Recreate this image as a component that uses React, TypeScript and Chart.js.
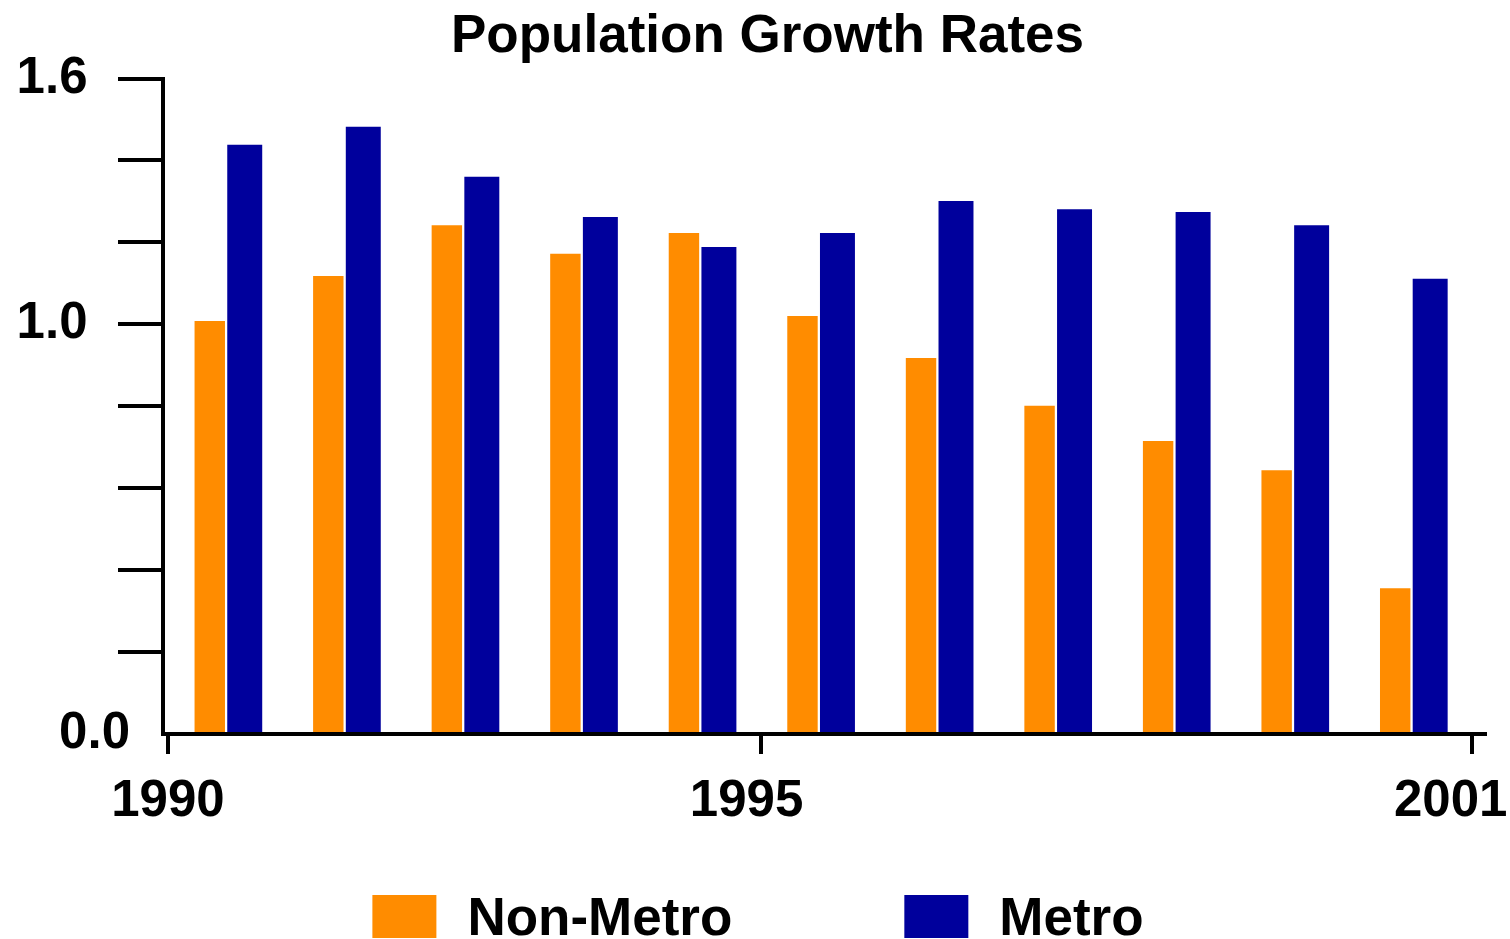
import React, { useEffect, useRef } from "react";
import { Chart, registerables } from "chart.js";

Chart.register(...registerables);

const TITLE = "Population Growth Rates";
const YEARS = [1990, 1991, 1992, 1993, 1994, 1995, 1996, 1997, 1998, 1999, 2000];
const NON_METRO = [1.008, 1.118, 1.242, 1.172, 1.223, 1.02, 0.918, 0.801, 0.715, 0.644, 0.356];
const METRO = [1.438, 1.482, 1.36, 1.262, 1.189, 1.223, 1.301, 1.281, 1.274, 1.242, 1.111];
const SERIES_LABELS = ["Non-Metro", "Metro"];
const SERIES_COLORS = ["#ff8c00", "#00009c"];
const X_TICKS = [1990, 1995, 2001];
const X_TICK_LABELS: Record<number, string> = { 1990: "1990", 1995: "1995  ", 2001: "2001   " };
const Y_TICK_LABELS: [number, string][] = [
  [0, "0.0"],
  [1.0, "1.0   "],
  [1.6, "1.6   "],
];

const FONT = "'Liberation Sans', Arial, Helvetica, sans-serif";

const titleLegendPlugin = {
  id: "titleAndLegend",
  afterDraw(chart: any) {
    const ctx = chart.ctx;
    ctx.save();
    // title
    ctx.font = `bold 53px ${FONT}`;
    ctx.fillStyle = "#000";
    ctx.textAlign = "left";
    ctx.textBaseline = "alphabetic";
    ctx.fillText(TITLE, 451, 52);

    // legend
    const boxW = 64;
    const boxH = 43;
    const gapBoxText = 31;
    const itemGap = 172;
    const widths = SERIES_LABELS.map((t) => ctx.measureText(t).width);
    const total = widths.reduce((a, w) => a + boxW + gapBoxText + w, 0) + itemGap * (widths.length - 1);
    let x = (chart.width - total) / 2 + 3;
    const boxTop = 895;
    const baseline = 935;
    SERIES_LABELS.forEach((t, i) => {
      ctx.fillStyle = SERIES_COLORS[i];
      ctx.fillRect(x, boxTop, boxW, boxH);
      ctx.fillStyle = "#000";
      ctx.fillText(t, x + boxW + gapBoxText, baseline);
      x += boxW + gapBoxText + widths[i] + itemGap;
    });
    ctx.restore();
  },
};

export default function App() {
  const canvasRef = useRef<HTMLCanvasElement | null>(null);

  useEffect(() => {
    if (!canvasRef.current) return;
    const chart = new Chart(canvasRef.current, {
      type: "bar",
      data: {
        datasets: [
          {
            label: SERIES_LABELS[0],
            data: YEARS.map((y, i) => ({ x: y + 0.5, y: NON_METRO[i] })),
            backgroundColor: SERIES_COLORS[0],
            borderWidth: 0,
            categoryPercentage: 0.59,
            barPercentage: 0.87,
          },
          {
            label: SERIES_LABELS[1],
            data: YEARS.map((y, i) => ({ x: y + 0.5, y: METRO[i] })),
            backgroundColor: SERIES_COLORS[1],
            borderWidth: 0,
            categoryPercentage: 0.59,
            barPercentage: 1.0,
          },
        ],
      } as any,
      options: {
        responsive: false,
        animation: false,
        devicePixelRatio: 1,
        layout: { padding: { left: 0, right: 25, top: 78.5, bottom: 105 } },
        plugins: {
          legend: { display: false },
          tooltip: { enabled: false },
          title: { display: false },
        },
        scales: {
          x: {
            type: "linear",
            min: 1989.958,
            max: 2001.11,
            offset: false,
            afterBuildTicks: (s: any) => {
              s.ticks = X_TICKS.map((v) => ({ value: v }));
            },
            afterFit: (s: any) => {
              s.height = 100;
              s.paddingLeft = 0;
              s.paddingRight = 0;
            },
            ticks: {
              autoSkip: false,
              maxRotation: 0,
              minRotation: 0,
              color: "#000",
              padding: 17,
              font: { family: FONT, weight: "bold", size: 51 },
              callback: (v: any) => X_TICK_LABELS[Math.round(Number(v))] ?? "",
            },
            grid: {
              offset: false,
              drawOnChartArea: false,
              drawTicks: true,
              tickLength: 20,
              color: "#000",
              lineWidth: 4,
            },
            border: { display: true, color: "#000", width: 4 },
          },
          y: {
            type: "linear",
            min: 0,
            max: 1.6,
            afterFit: (s: any) => {
              s.width = 163;
              s.paddingTop = 0;
              s.paddingBottom = 0;
            },
            ticks: {
              stepSize: 0.2,
              autoSkip: false,
              color: "#000",
              padding: -12,
              font: { family: FONT, weight: "bold", size: 51 },
              callback: (v: any) => {
                const n = Number(v);
                const hit = Y_TICK_LABELS.find(([val]) => Math.abs(val - n) < 1e-6);
                return hit ? hit[1] : "";
              },
            },
            grid: {
              drawOnChartArea: false,
              drawTicks: true,
              tickLength: 45,
              lineWidth: 4,
              color: (c: any) =>
                c.tick && Math.abs(c.tick.value) < 1e-9 ? "rgba(0,0,0,0)" : "#000",
            },
            border: { display: true, color: "#000", width: 4 },
          },
        },
      } as any,
      plugins: [titleLegendPlugin],
    });
    return () => chart.destroy();
  }, []);

  return (
    <div style={{ position: "absolute", left: 0, top: 0, width: 1510, height: 939, background: "#fff" }}>
      <canvas ref={canvasRef} width={1510} height={939} style={{ width: 1510, height: 939 }} />
    </div>
  );
}
